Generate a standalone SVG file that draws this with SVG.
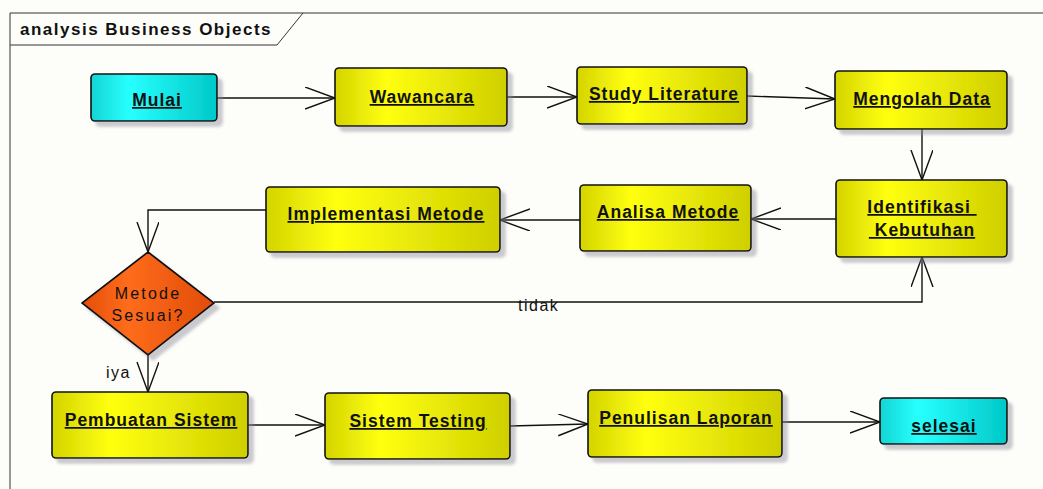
<svg xmlns="http://www.w3.org/2000/svg" width="1043" height="489" viewBox="0 0 1043 489">
  <defs>
    <linearGradient id="gYellow" x1="0" y1="0" x2="1" y2="0">
      <stop offset="0" stop-color="#d4d400"/>
      <stop offset="0.3" stop-color="#ffff10"/>
      <stop offset="1" stop-color="#cfcf00"/>
    </linearGradient>
    <linearGradient id="gCyan" x1="0" y1="0" x2="1" y2="0">
      <stop offset="0" stop-color="#14d4d4"/>
      <stop offset="0.3" stop-color="#28ffff"/>
      <stop offset="1" stop-color="#00c8c8"/>
    </linearGradient>
    <linearGradient id="gOrange" x1="0" y1="0" x2="1" y2="0">
      <stop offset="0" stop-color="#e24e08"/>
      <stop offset="0.35" stop-color="#ff6c1c"/>
      <stop offset="1" stop-color="#e04c06"/>
    </linearGradient>
    <filter id="shadow" x="-10%" y="-10%" width="130%" height="140%">
      <feDropShadow dx="5" dy="5" stdDeviation="1.5" flood-color="#8a8a9a" flood-opacity="0.45"/>
    </filter>
    <marker id="open" markerUnits="userSpaceOnUse" markerWidth="32" markerHeight="24" refX="30" refY="11" orient="auto">
      <path d="M0,0 L30,11 L0,22" fill="none" stroke="#111" stroke-width="1.4"/>
    </marker>
  </defs>
  <style>
    .frame { fill: none; stroke: #333; stroke-width: 1; }
    .box { stroke: #111; stroke-width: 1.6; filter: url(#shadow); }
    .act { fill: url(#gYellow); }
    .term { fill: url(#gCyan); }
    .lbl { font-family: "Liberation Sans", Arial, sans-serif; font-weight: bold; font-size: 17.5px; fill: #111; text-anchor: middle; text-decoration: underline; letter-spacing: 1px; }
    .plain { font-family: "Liberation Sans", Arial, sans-serif; font-size: 16px; fill: #111; letter-spacing: 1.5px; }
    .title { font-family: "Liberation Sans", Arial, sans-serif; font-weight: bold; font-size: 17px; fill: #111; letter-spacing: 1.5px; }
    .edge { fill: none; stroke: #111; stroke-width: 1.4; marker-end: url(#open); }
  </style>

  <rect x="0" y="0" width="1043" height="489" fill="#fdfdf9"/>

  <!-- diagram frame with name tab -->
  <g id="frame">
    <path class="frame" d="M10,489 L10,13 L1043,13"/>
    <path class="frame" d="M10,45 L277,45 L303,13"/>
    <text class="title" x="20" y="35">analysis Business Objects</text>
  </g>

  <!-- connectors -->
  <g id="connectors">
    <line class="edge" x1="217" y1="98" x2="335" y2="98"/>
    <line class="edge" x1="507" y1="97" x2="577" y2="97"/>
    <line class="edge" x1="747" y1="96" x2="835" y2="99"/>
    <line class="edge" x1="922" y1="129" x2="922" y2="180"/>
    <line class="edge" x1="836" y1="219" x2="751" y2="219"/>
    <line class="edge" x1="580" y1="220" x2="500" y2="220"/>
    <polyline class="edge" points="266,210 148,210 148,252"/>
    <polyline class="edge" points="214,302 922,302 922,257"/>
    <line class="edge" x1="148" y1="355" x2="148" y2="392"/>
    <line class="edge" x1="248" y1="425" x2="325" y2="425"/>
    <line class="edge" x1="510" y1="426" x2="588" y2="424"/>
    <line class="edge" x1="782" y1="422" x2="880" y2="422"/>
    <text class="plain" x="518" y="311">tidak</text>
    <text class="plain" x="106" y="378">iya</text>
  </g>

  <g id="mulai">
    <rect class="box term" x="91" y="74" width="126" height="47" rx="4"/>
    <text class="lbl" x="157" y="106">Mulai</text>
  </g>
  <g id="wawancara">
    <rect class="box act" x="335" y="68" width="172" height="58" rx="4"/>
    <text class="lbl" x="422" y="103">Wawancara</text>
  </g>
  <g id="study-literature">
    <rect class="box act" x="577" y="67" width="170" height="57" rx="4"/>
    <text class="lbl" x="664" y="100">Study Literature</text>
  </g>
  <g id="mengolah-data">
    <rect class="box act" x="835" y="71" width="172" height="58" rx="4"/>
    <text class="lbl" x="922" y="105">Mengolah Data</text>
  </g>
  <g id="identifikasi-kebutuhan">
    <rect class="box act" x="836" y="180" width="171" height="77" rx="4"/>
    <text class="lbl" x="922" y="213" xml:space="preserve">Identifikasi </text>
    <text class="lbl" x="922" y="236" xml:space="preserve"> Kebutuhan</text>
  </g>
  <g id="analisa-metode">
    <rect class="box act" x="580" y="185" width="171" height="66" rx="4"/>
    <text class="lbl" x="668" y="218">Analisa Metode</text>
  </g>
  <g id="implementasi-metode">
    <rect class="box act" x="266" y="187" width="234" height="65" rx="4"/>
    <text class="lbl" x="386" y="220">Implementasi Metode</text>
  </g>
  <g id="metode-sesuai">
    <polygon class="box" fill="url(#gOrange)" points="148,252 214,303 148,355 82,303"/>
    <text class="plain" x="148" y="299" text-anchor="middle" style="letter-spacing:2.2px">Metode</text>
    <text class="plain" x="148" y="321" text-anchor="middle" style="letter-spacing:2.2px">Sesuai?</text>
  </g>
  <g id="pembuatan-sistem">
    <rect class="box act" x="52" y="392" width="196" height="66" rx="4"/>
    <text class="lbl" x="151" y="426">Pembuatan Sistem</text>
  </g>
  <g id="sistem-testing">
    <rect class="box act" x="325" y="393" width="185" height="66" rx="4"/>
    <text class="lbl" x="418" y="427">Sistem Testing</text>
  </g>
  <g id="penulisan-laporan">
    <rect class="box act" x="588" y="390" width="194" height="67" rx="4"/>
    <text class="lbl" x="686" y="424">Penulisan Laporan</text>
  </g>
  <g id="selesai">
    <rect class="box term" x="880" y="398" width="127" height="46" rx="4"/>
    <text class="lbl" x="944" y="432">selesai</text>
  </g>
</svg>
